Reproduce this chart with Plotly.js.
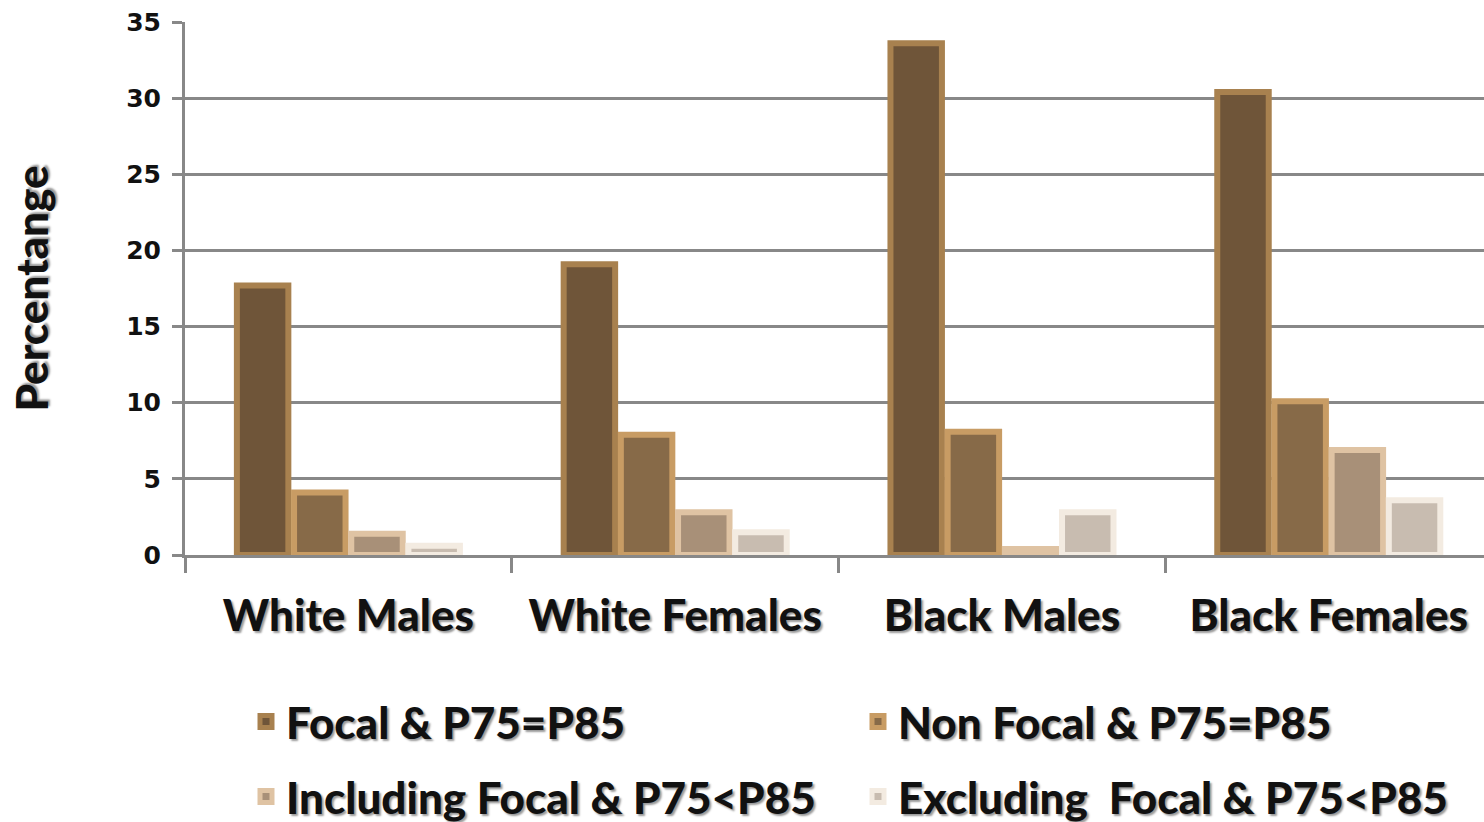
<!DOCTYPE html>
<html>
<head>
<meta charset="utf-8">
<script src="https://cdn.plot.ly/plotly-3.0.1.min.js"></script>
<style>html,body{margin:0;padding:0;background:#fff;}#chart{width:1484px;height:822px;}</style>
</head>
<body>
<div id="chart"></div>
<script>
const categories = ["White Males", "White Females", "Black Males", "Black Females"];
const seriesNames = ["Focal & P75=P85", "Non Focal & P75=P85", "Including Focal & P75<P85", "Excluding  Focal & P75<P85"];
const focal = [17.7, 19.1, 33.6, 30.4];
const nonFocal = [4.1, 7.9, 8.1, 10.1];
const including = [1.4, 2.8, 0.4, 6.9];
const excluding = [0.6, 1.5, 2.8, 3.6];
const yTicks = [0, 5, 10, 15, 20, 25, 30, 35];

const values = [focal, nonFocal, including, excluding];
const coreColors = ["#6F5539", "#876A48", "#A89078", "#C8BCB0"];
const bevelColors = ["#A8814F", "#C89C64", "#DFC3A3", "#F3EBE1"];
const legendIds = ["legend", "legend2", "legend3", "legend4"];
const legendX = [246, 858, 246, 858];
const legendY = [722, 722, 797, 797];

const textFont = {family: "Lato, 'Open Sans', sans-serif", weight: 900, color: "#111", shadow: "2px 2px 2px #9a9a9a"};

const traces = values.map((v, i) => ({
  type: "bar",
  name: seriesNames[i],
  x: categories,
  y: v,
  legend: legendIds[i],
  marker: {color: coreColors[i], line: {color: bevelColors[i], width: 6}},
  hoverinfo: "skip"
}));

const layout = {
  width: 1484, height: 822,
  margin: {l: 185, r: 0, t: 22, b: 267},
  paper_bgcolor: "#fff", plot_bgcolor: "#fff",
  barmode: "group",
  bargap: 0.3,
  bargroupgap: 0.1,
  showlegend: true,
  xaxis: {
    type: "category",
    range: [-0.5, 3.475],
    showline: true, linecolor: "#888", linewidth: 3,
    ticks: "outside", tickson: "boundaries", ticklen: 15, tickwidth: 3, tickcolor: "#888",
    showgrid: false,
    tickfont: Object.assign({size: 44}, textFont),
    ticklabelstandoff: 20
  },
  yaxis: {
    range: [0, 35],
    tickvals: yTicks,
    showline: true, linecolor: "#888", linewidth: 3,
    showgrid: true, gridcolor: "#888", gridwidth: 3,
    zeroline: false,
    ticks: "outside", ticklen: 10, tickwidth: 3, tickcolor: "#888",
    tickfont: {family: "'DejaVu Sans', Verdana, sans-serif", weight: 700, size: 25, color: "#111"},
    ticklabelstandoff: 6,
    title: {text: "Percentange", font: Object.assign({size: 44}, textFont), standoff: 64}
  }
};

legendIds.forEach((id, i) => {
  layout[id] = {
    orientation: "h", xref: "container", yref: "container",
    x: legendX[i] / 1484, xanchor: "left", y: 1 - legendY[i] / 822, yanchor: "middle",
    font: Object.assign({size: 44}, textFont),
    bgcolor: "rgba(0,0,0,0)"
  };
});

Plotly.newPlot("chart", traces, layout, {displayModeBar: false, staticPlot: true});
</script>
</body>
</html>
